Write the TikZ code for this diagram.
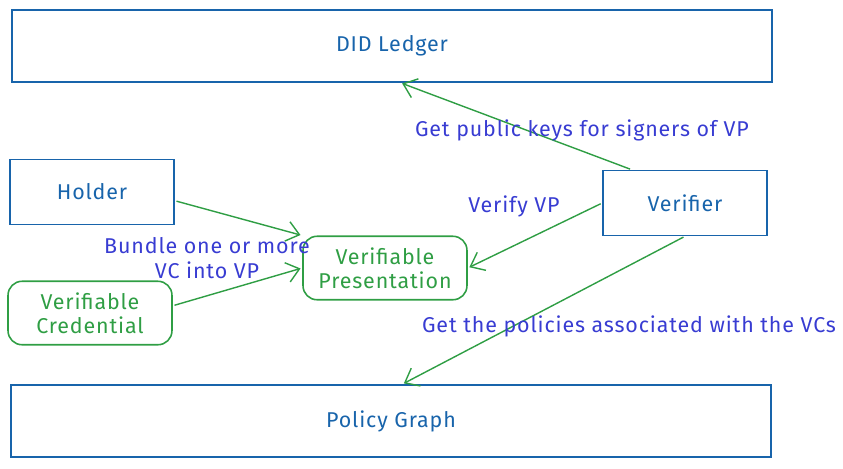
\documentclass[tikz,border=0pt]{standalone}
\usepackage{fontspec}
\setmainfont{Fira Sans}[LetterSpace=4]
\usepackage{tikz}
\usetikzlibrary{positioning,arrows.meta}
\definecolor{ent}{RGB}{24,100,171}
\definecolor{cred}{RGB}{47,158,68}
\definecolor{lbl}{RGB}{56,60,210}

\begin{document}
\begin{tikzpicture}[x=0.02cm,y=-0.02cm,font=\fontsize{12.2}{13.8}\selectfont,
  >={Straight Barb[length=2.5mm,width=4mm]},
  ledger/.style={draw=ent,text=ent,line width=0.9pt,minimum width=15.2cm,minimum height=1.44cm},
  actor/.style={draw=ent,text=ent,line width=0.9pt,minimum width=3.28cm,minimum height=1.3cm},
  doc/.style={draw=cred,text=cred,line width=0.9pt,rounded corners=8pt,minimum width=3.28cm,minimum height=1.27cm,align=center},
  flow/.style={->,draw=cred,line width=0.8pt,shorten <=1pt,shorten >=1pt},
  note/.style={text=lbl,align=center}]
  \useasboundingbox (0,0) rectangle (843,468);
  \node[ledger] (did) at (392,46) {DID Ledger};
  \node[ledger] (pg) at (391,421) {Policy Graph};
  \node[actor] (holder) at (92,192) {Holder};
  \node[actor] (verifier) at (685,203) {Verifier};
  \node[doc] (vc) at (90,313) {Verifiable\\Credential};
  \node[doc] (vp) at (385,268) {Verifiable\\Presentation};
  % holder side
  \draw[flow] (holder.-6) -- (vp.north west);
  \draw[flow] (vc.5) -- (vp.west);
  \node[note] (bundle) at (207,258) {Bundle one or more\\VC into VP};
  % verifier side
  \draw[flow] (verifier.148) -- (did.-77);
  \node[note] (keys) at (582,130) {Get public keys for signers of VP};
  \draw[flow] (verifier.west) -- (vp.east);
  \node[note] (verify) at (514,206) {Verify VP};
  \draw[flow] (verifier.south) -- (pg.73);
  \node[note] (pol) at (629,326) {Get the policies associated with the VCs};
\end{tikzpicture}
\end{document}
